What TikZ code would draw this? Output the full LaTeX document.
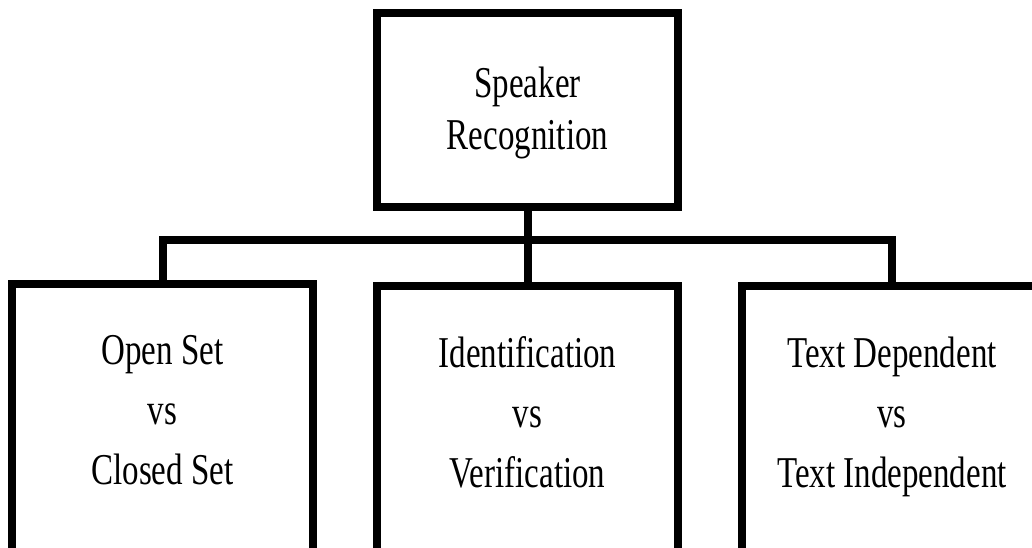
\documentclass[tikz,border=0pt]{standalone}
\usepackage{fontspec}
\setmainfont[FakeStretch=0.75]{Liberation Serif}
\usepackage{tikz}
\usepackage{xcolor}

\newcommand{\lowstrut}{\rule[-32pt]{0pt}{32pt}}

\begin{document}
\begin{tikzpicture}[x=1pt,y=-1pt,
  box/.style={draw, line width=8pt, minimum width=301pt, inner sep=0pt, align=center},
  link/.style={line width=8pt}]

\clip (0,0) rectangle (1032,548);

% Top box
\node[box, minimum height=194pt, font=\fontsize{44}{52}\selectfont] (top) at (527.5,110) {\rule{0pt}{36pt}Speaker\\Recognition};

% Bottom row of boxes
\node[box, minimum height=284pt, font=\fontsize{44}{60}\selectfont] (open) at (162.5,426) {Open Set\\vs\\Closed Set\lowstrut};
\node[box, minimum height=284pt, font=\fontsize{44}{60}\selectfont] (ident) at (527.5,428) {Identification\\vs\\Verification\lowstrut};
\node[box, minimum height=284pt, font=\fontsize{44}{60}\selectfont] (text) at (892,428) {Text Dependent\\vs\\Text Independent\lowstrut};

% Connectors
\coordinate (bus) at (527.5,240);
\draw[link] (top.south) -- (ident.north);
\draw[link] (open.north) |- (bus) -| (text.north);

\end{tikzpicture}
\end{document}
